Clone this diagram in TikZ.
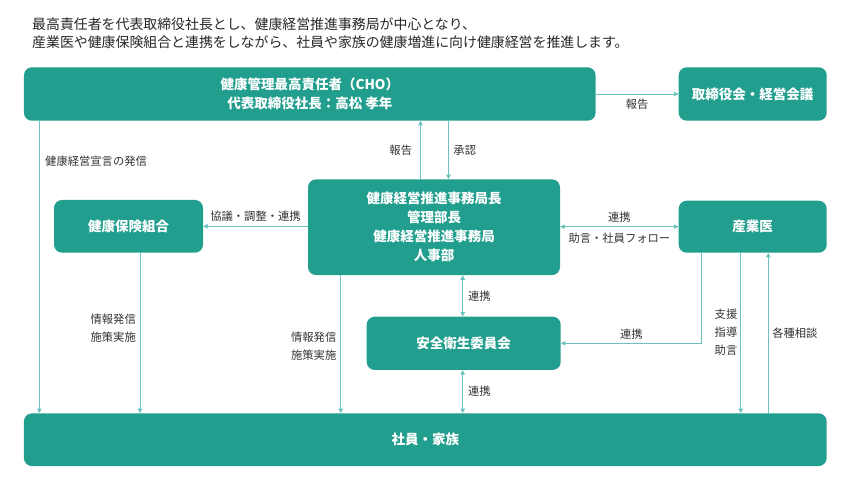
\documentclass[tikz,border=0pt]{standalone}
\usepackage{fontspec}
\setmainfont{Noto Sans CJK JP}
\usetikzlibrary{arrows.meta,positioning,calc}
\definecolor{HealthTeal}{HTML}{219E8D}
\definecolor{LinkTeal}{HTML}{6CC3BE}
\definecolor{LabelGray}{HTML}{333333}

\begin{document}
\begin{tikzpicture}[x=1pt,y=-1pt,
  box/.style={fill=HealthTeal,rounded corners=8pt,text=white,align=center,inner sep=0pt,
    font=\fontsize{13.5}{19}\selectfont\bfseries},
  link/.style={LinkTeal,line width=0.9pt,-{Triangle[length=4.5pt,width=4.5pt]}},
  both/.style={link,{Triangle[length=4.5pt,width=4.5pt]}-{Triangle[length=4.5pt,width=4.5pt]}},
  lbl/.style={text=LabelGray,inner sep=0pt,font=\fontsize{11.3}{17.8}\selectfont}]
  \useasboundingbox (0,0) rectangle (850,498);

  \node[anchor=west,align=left,inner sep=0pt,text=black!85,font=\fontsize{13.9}{18.3}\selectfont]
    (intro) at (32,33.2)
    {最高責任者を代表取締役社長とし、健康経営推進事務局が中心となり、\\
     産業医や健康保険組合と連携をしながら、社員や家族の健康増進に向け健康経営を推進します。};

  \node[box,minimum width=571.7pt,minimum height=53.4pt] (cho) at (309.8,94)
    {健康管理最高責任者（CHO）\\代表取締役社長：高松 孝年};
  \node[box,minimum width=148pt,minimum height=53.4pt] (board) at (752.7,94) {取締役会・経営会議};
  \node[box,minimum width=149pt,minimum height=52.7pt] (kenpo) at (128.5,226.3) {健康保険組合};
  \node[box,minimum width=252pt,minimum height=95.7pt] (office) at (434,227.2)
    {健康経営推進事務局長\\管理部長\\健康経営推進事務局\\人事部};
  \node[box,minimum width=148pt,minimum height=52pt] (doctor) at (752.7,226.7) {産業医};
  \node[box,minimum width=194pt,minimum height=53.3pt] (safety) at (463.7,343.3) {安全衛生委員会};
  \node[box,minimum width=802.7pt,minimum height=52.7pt] (staff) at (425.3,439.7) {社員・家族};

  \coordinate (xl) at (39.3,0);
  \coordinate (xk) at (140,0);
  \coordinate (xo) at (340.7,0);
  \coordinate (xr) at (420.5,0);
  \coordinate (xa) at (448.5,0);
  \coordinate (xs) at (462.7,0);
  \coordinate (xd) at (701.7,0);
  \coordinate (xv) at (740.7,0);
  \coordinate (xc) at (768.3,0);

  \draw[link] (cho.east) -- (board.west) node[lbl,midway,below=4.5pt] (rep1) {報告};
  \draw[link] (xr |- office.north) -- (xr |- cho.south) node[lbl,midway,left=8pt] (rep2) {報告};
  \draw[link] (xa |- cho.south) -- (xa |- office.north) node[lbl,midway,right=4.5pt] (ok) {承認};
  \draw[link] (xl |- cho.south) -- (xl |- staff.north);
  \node[lbl,anchor=west] (decl) at (45,161.7) {健康経営宣言の発信};

  \draw[link] (office.west |- kenpo) -- (kenpo.east) node[lbl,midway,above=4pt] (talk) {協議・調整・連携};
  \draw[both] (office.east |- doctor) -- (doctor.west)
    node[lbl,midway,above=4pt] (co1) {連携}
    node[lbl,midway,below=6pt] (adv) {助言・社員フォロー};

  \draw[link] (xk |- kenpo.south) -- (xk |- staff.north);
  \node[lbl,align=right,anchor=east] (info1) at (136,328) {情報発信\\施策実施};
  \draw[link] (xo |- office.south) -- (xo |- staff.north);
  \node[lbl,align=right,anchor=east] (info2) at (336.5,346) {情報発信\\施策実施};

  \draw[both] (xs |- office.south) -- (xs |- safety.north) node[lbl,midway,right=5pt] (co2) {連携};
  \draw[both] (xs |- safety.south) -- (xs |- staff.north) node[lbl,midway,right=5pt] (co3) {連携};
  \draw[link] (xd |- doctor.south) |- (safety.east) node[lbl,pos=0.75,above=3.5pt] (co4) {連携};

  \draw[link] (xv |- doctor.south) -- (xv |- staff.north);
  \node[lbl,align=left,anchor=east] (sup) at (737.5,332) {支援\\指導\\助言};
  \draw[link] (xc |- staff.north) -- (xc |- doctor.south) node[lbl,midway,right=3.5pt] (ask) {各種相談};
\end{tikzpicture}
\end{document}
